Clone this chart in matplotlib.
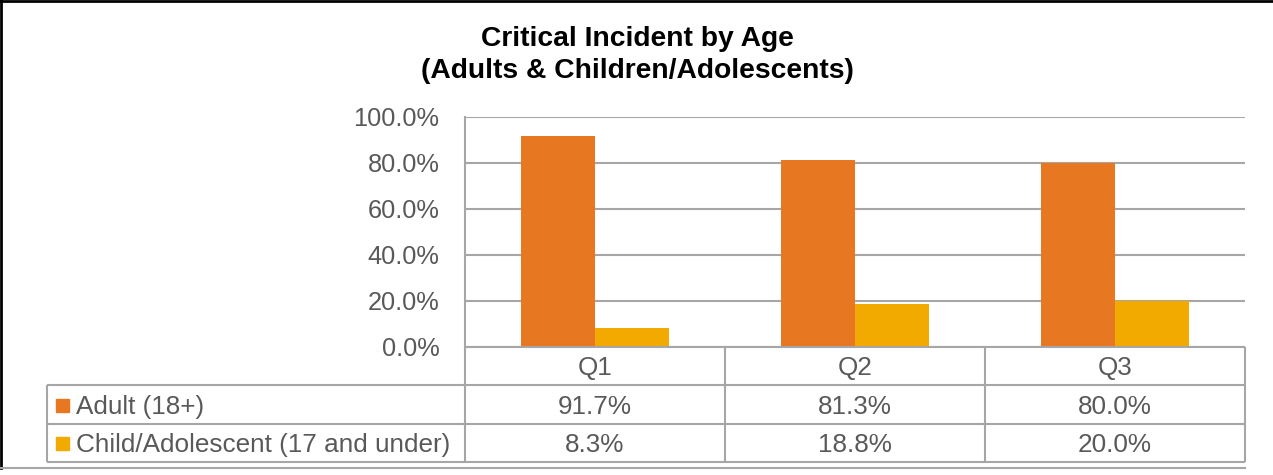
import numpy as np
import matplotlib.pyplot as plt
from matplotlib.lines import Line2D
from matplotlib.patches import Rectangle

plt.rcParams['font.family'] = ['Liberation Sans', 'DejaVu Sans']

quarters = ['Q1', 'Q2', 'Q3']
series_names = ['Adult (18+)', 'Child/Adolescent (17 and under)']
adult = [91.7, 81.3, 80.0]
child = [8.3, 18.8, 20.0]
colors = ['#E87722', '#F2A900']

W, H = 1273, 475
TEXT = '#595959'
GRID = '#A6A6A6'

fig = plt.figure(figsize=(W / 100, H / 100), dpi=100)

# plot area
ax = fig.add_axes([465 / W, 1 - 347 / H, 780 / W, 230 / H])
x = np.arange(len(quarters))
bw = 0.285
ax.bar(x - bw / 2, adult, bw, color=colors[0], zorder=3)
ax.bar(x + bw / 2, child, bw, color=colors[1], zorder=3)
ax.set_xlim(-0.5, len(quarters) - 0.5)
ax.set_ylim(0, 100)
ax.set_yticks(np.arange(0, 101, 20))
ax.set_yticklabels([f'{v:.1f}%' for v in np.arange(0, 101, 20)])
ax.tick_params(axis='y', length=0, pad=18.5, labelsize=18.3, labelcolor=TEXT)
ax.set_xticks([])
ax.grid(axis='y', color=GRID, linewidth=1.5, zorder=0)
for side in ['top', 'right', 'bottom']:
    ax.spines[side].set_visible(False)
ax.spines['left'].set_color(GRID)
ax.spines['left'].set_linewidth(1.5)

# data table below the plot, columns aligned with the categories
tax = fig.add_axes([47 / W, 1 - 462 / H, (1245 - 47) / W, 115 / H])
left_edge = -0.5 - (465 - 47) / 260
tax.set_xlim(left_edge, len(quarters) - 0.5)
tax.set_ylim(3, 0)
tax.axis('off')

lk = dict(color=GRID, linewidth=1.5, solid_capstyle='butt')
# horizontal rules
tax.plot([-0.5, 2.5], [0, 0], **lk)
for r in [1, 2, 3]:
    tax.plot([left_edge, 2.5], [r, r], **lk)
# vertical rules
for c in [-0.5, 0.5, 1.5, 2.5]:
    tax.plot([c, c], [0, 3], **lk)
tax.plot([left_edge, left_edge], [1, 3], **lk)
for a in tax.lines:
    a.set_clip_on(False)

fs = 18.8
dy = 0.06  # nudge text a touch below the row middle
for i, q in enumerate(quarters):
    tax.text(i, 0.5 + dy, q, ha='center', va='center', fontsize=fs, color=TEXT)
    tax.text(i, 1.5 + dy, f'{adult[i]:.1f}%', ha='center', va='center', fontsize=fs, color=TEXT)
    tax.text(i, 2.5 + dy, f'{child[i]:.1f}%', ha='center', va='center', fontsize=fs, color=TEXT)

# legend keys inside the first column
px = (-0.5 - left_edge) / (465 - 47)  # data units per pixel
for r, (name, col) in enumerate(zip(series_names, colors)):
    yc = r + 1.5
    tax.add_patch(Rectangle((left_edge + 9 * px, yc - 0.15), 13 * px, 0.34,
                            color=col, clip_on=False))
    tax.text(left_edge + 29 * px, yc + dy, name, ha='left', va='center',
             fontsize=fs, color=TEXT)

# title
fig.text(0.501, 1 - 39 / H, 'Critical Incident by Age', ha='center', va='center',
         fontsize=20.3, fontweight='bold', color='black')
fig.text(0.501, 1 - 71 / H, '(Adults & Children/Adolescents)', ha='center', va='center',
         fontsize=20.3, fontweight='bold', color='black')

# chart frame
fig.add_artist(Line2D([0, 1], [1 - 1 / H, 1 - 1 / H], transform=fig.transFigure,
                      color='black', linewidth=2))
fig.add_artist(Line2D([1 / W, 1 / W], [1 - 468 / H, 1], transform=fig.transFigure,
                      color='black', linewidth=2))
fig.add_artist(Line2D([0, 1245 / W], [1 - 468 / H, 1 - 468 / H], transform=fig.transFigure,
                      color=GRID, linewidth=1.5))

fig.savefig('out.png', dpi=100)
